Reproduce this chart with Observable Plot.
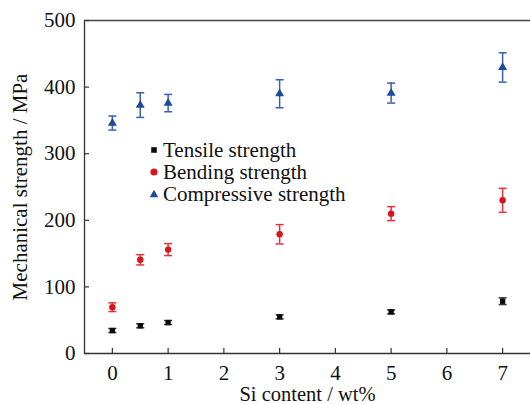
<!DOCTYPE html>
<html>
<head>
<meta charset="utf-8">
<script src="https://cdn.jsdelivr.net/npm/d3@7"></script>
<script src="https://cdn.jsdelivr.net/npm/@observablehq/plot@0.6"></script>
<style>
  html, body { margin: 0; padding: 0; background: #fff; }
  #wrap { position: relative; width: 530px; height: 404px; font-family: "Liberation Serif", "Times New Roman", serif; }
  #legend { position: absolute; left: 147px; top: 139px; font-size: 21px; color: #111; }
  #legend .row { display: flex; align-items: center; white-space: nowrap; height: 22px; line-height: 22px; }
  #legend svg { width: 14px; height: 14px; margin-right: 2px; }
</style>
</head>
<body>
<div id="wrap"><div id="legend"></div></div>
<script>
const siContent = [0, 0.5, 1, 3, 5, 7];
const tensile = [34.5, 41.6, 46.5, 55, 62.5, 78.5];
const tensileErr = [3, 3, 3, 3, 3, 5];
const bending = [69.5, 140.7, 156, 179, 210, 230];
const bendingErr = [6.5, 7.7, 9, 14.5, 10.5, 18];
const compressive = [346, 373, 376, 390, 391, 429.5];
const compressiveErr = [10.5, 18.5, 13, 21, 15, 22];
const seriesNames = ["Tensile strength", "Bending strength", "Compressive strength"];
const xTicks = [0, 1, 2, 3, 4, 5, 6, 7];
const yTicks = [0, 100, 200, 300, 400, 500];

const colors = {"Tensile strength": "#0a0a0a", "Bending strength": "#d9151c", "Compressive strength": "#1d4a9c"};
const barColors = {"Tensile strength": "#333333", "Bending strength": "#e0343a", "Compressive strength": "#3a62b0"};
const symbols = {"Tensile strength": "square", "Bending strength": "circle", "Compressive strength": "triangle"};
const sizes = {"Tensile strength": 3.9, "Bending strength": 4.5, "Compressive strength": 4.8};

const rows = [];
[[tensile, tensileErr], [bending, bendingErr], [compressive, compressiveErr]].forEach(([vals, errs], i) => {
  siContent.forEach((x, j) => rows.push({series: seriesNames[i], x, y: vals[j], lo: vals[j] - errs[j], hi: vals[j] + errs[j]}));
});

const W = 530, H = 404, mL = 84, mR = 0, mT = 20, mB = 51;
const capHalf = 4 / ((W - mL - mR) / 8); // cap half-width in data units
const tickLen = 5;
const serif = "'Liberation Serif', 'Times New Roman', serif";

const chart = Plot.plot({
  width: W, height: H,
  marginLeft: mL, marginRight: mR, marginTop: mT, marginBottom: mB,
  style: {fontFamily: serif, fontSize: "21px", color: "#111", background: "#fff"},
  x: {domain: [-0.5, 7.5], ticks: xTicks, tickSize: 0, tickPadding: 12, label: null},
  y: {domain: [0, 500], ticks: yTicks, tickSize: 0, tickPadding: 9, label: null},
  marks: [
    Plot.frame({stroke: "#c8c8c8"}),
    Plot.ruleY([0], {stroke: "#333", strokeWidth: 1.3}),
    Plot.ruleX([-0.5], {stroke: "#333", strokeWidth: 1.3}),
    Plot.ruleY([500], {stroke: "#444", strokeWidth: 1.3}),
    Plot.tickX(xTicks, {x: d => d, insetTop: H - mT - mB - tickLen, stroke: "#333", strokeWidth: 1.2}),
    Plot.tickY(yTicks, {y: d => d, insetRight: W - mL - mR - tickLen, stroke: "#333", strokeWidth: 1.2}),
    Plot.ruleX(rows, {x: "x", y1: "lo", y2: "hi", stroke: d => barColors[d.series], strokeWidth: 1.5}),
    Plot.link(rows, {x1: d => d.x - capHalf, x2: d => d.x + capHalf, y1: "lo", y2: "lo", stroke: d => barColors[d.series], strokeWidth: 1.5}),
    Plot.link(rows, {x1: d => d.x - capHalf, x2: d => d.x + capHalf, y1: "hi", y2: "hi", stroke: d => barColors[d.series], strokeWidth: 1.5}),
    Plot.dot(rows, {x: "x", y: "y", symbol: d => symbols[d.series], r: d => sizes[d.series], fill: d => colors[d.series], stroke: "none"}),
    Plot.text(["Si content / wt%"], {text: d => d, frameAnchor: "bottom", lineAnchor: "middle", dy: 41, fontSize: 20.5, fontFamily: serif, fill: "#111"}),
    Plot.text(["Mechanical strength / MPa"], {text: d => d, frameAnchor: "left", textAnchor: "middle", lineAnchor: "middle", dx: -64, rotate: -90, fontSize: 21, fontFamily: serif, fill: "#111"})
  ]
});
document.getElementById("wrap").prepend(chart);

const legend = document.getElementById("legend");
const legendSvgs = {
  "square": '<rect x="4.2" y="4.2" width="5.6" height="5.6"/>',
  "circle": '<circle cx="7" cy="7" r="3.6"/>',
  "triangle": '<path d="M7,2.8 L11.3,10.2 L2.7,10.2 Z"/>'
};
seriesNames.forEach(name => {
  const row = document.createElement("div");
  row.className = "row";
  row.innerHTML = `<svg viewBox="0 0 14 14" fill="${colors[name]}">${legendSvgs[symbols[name]]}</svg><span>${name}</span>`;
  legend.appendChild(row);
});
</script>
</body>
</html>
